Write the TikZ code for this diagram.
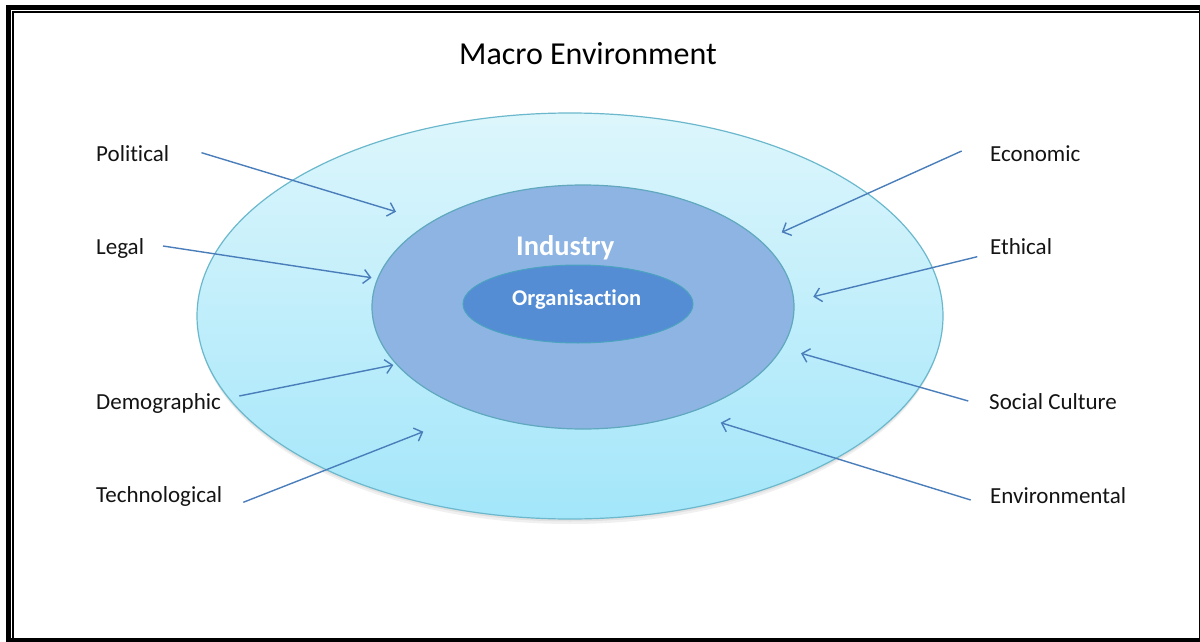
\documentclass[tikz,border=0pt]{standalone}
\usepackage{fontspec}
\setmainfont{Carlito}[Ligatures={NoCommon,NoRequired,NoContextual}]
\usetikzlibrary{arrows.meta}
\definecolor{outtop}{HTML}{DDF6FC}
\definecolor{outbot}{HTML}{A3E6FA}
\definecolor{outline}{HTML}{6BB8CC}
\definecolor{midfill}{HTML}{8DB4E2}
\definecolor{midline}{HTML}{5FA8BE}
\definecolor{innfill}{HTML}{548DD4}
\definecolor{innline}{HTML}{4BA3C0}
\definecolor{arr}{HTML}{4A7EBB}
\tikzset{
  lbl/.style={anchor=base west, inner sep=0pt, font=\fontsize{23}{28}\selectfont, text=black!92},
  conn/.style={draw=arr, line width=1.4pt, -{Straight Barb[length=7pt,width=14pt,line width=1.4pt]}},
}
\begin{document}
\begin{tikzpicture}[x=1pt,y=-1pt]
\useasboundingbox (0,0) rectangle (1200,642);
\clip (0,0) rectangle (1200,642);
\fill[white] (0,0) rectangle (1200,642);
% frame
\draw[line width=5pt] (8.5,8) rectangle (1201.5,640.5);
\draw[line width=1.7pt] (13.2,12.2) rectangle (1205,648);
% title
\node[anchor=base, inner sep=0pt, font=\fontsize{32}{38}\selectfont] (title) at (588,65) {Macro Environment};
% shadows
\fill[black, opacity=0.06] (570,320) ellipse [x radius=372, y radius=204];
\fill[black, opacity=0.06] (570,318.5) ellipse [x radius=372.5, y radius=203];
\fill[black, opacity=0.08] (583,310) ellipse [x radius=211, y radius=122];
\fill[black, opacity=0.10] (578,306.5) ellipse [x radius=115, y radius=39];
% ellipses
\path[draw=outline, line width=1.2pt, top color=outtop, bottom color=outbot] (570,316) ellipse [x radius=373, y radius=203];
\path[draw=midline, line width=1.2pt, fill=midfill] (583,307) ellipse [x radius=211, y radius=122];
\path[draw=innline, line width=1pt, fill=innfill] (578,304) ellipse [x radius=115, y radius=39];
\node[anchor=base west, inner sep=0pt, font=\fontsize{28.5}{34}\selectfont\bfseries, text=white] (industry) at (516,255) {Industry};
\node[anchor=base west, inner sep=0pt, font=\fontsize{22.5}{27}\selectfont\bfseries, text=white] (org) at (512,305) {Organisaction};
% labels
\node[lbl] (political) at (96,161.7) {Political};
\node[lbl] (legal) at (96,254) {Legal};
\node[lbl] (demo) at (96,409.3) {Demographic};
\node[lbl] (tech) at (96,502.7) {Technological};
\node[lbl] (econ) at (990,161.7) {Economic};
\node[lbl] (ethic) at (990,254.3) {Ethical};
\node[lbl] (social) at (989,409.3) {Social Culture};
\node[lbl] (env) at (990,503.3) {Environmental};
% arrow endpoints
\coordinate (ps) at (201.5,152.7); \coordinate (pe) at (396,211.7);
\coordinate (ls) at (163,246); \coordinate (le) at (371.5,277.7);
\coordinate (ds) at (239.3,396); \coordinate (de) at (393.3,365);
\coordinate (ts) at (243.3,502.3); \coordinate (te) at (423.3,431.7);
\coordinate (es) at (961.7,151); \coordinate (ee) at (781.7,232.3);
\coordinate (hs) at (977.3,256.7); \coordinate (he) at (813.3,296.7);
\coordinate (ss) at (968.3,401); \coordinate (se) at (801,353.3);
\coordinate (vs) at (970.7,500); \coordinate (ve) at (720.7,422.7);
\draw[conn] (ps) -- (pe);
\draw[conn] (ls) -- (le);
\draw[conn] (ds) -- (de);
\draw[conn] (ts) -- (te);
\draw[conn] (es) -- (ee);
\draw[conn] (hs) -- (he);
\draw[conn] (ss) -- (se);
\draw[conn] (vs) -- (ve);
\end{tikzpicture}
\end{document}
